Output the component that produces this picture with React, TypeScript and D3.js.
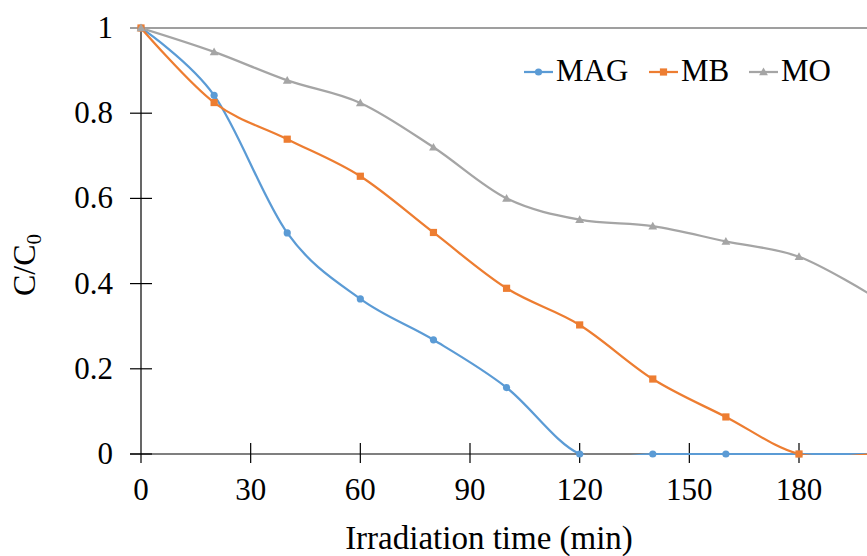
import React from "react";
import * as d3 from "d3";

// irradiation time (min) and C/C0 for each dye
const times = [0, 20, 40, 60, 80, 100, 120, 140, 160, 180, 200];
const magValues = [1, 0.842, 0.519, 0.364, 0.268, 0.156, 0, 0, 0, 0, 0];
const mbValues = [1, 0.825, 0.739, 0.652, 0.52, 0.389, 0.303, 0.176, 0.087, 0, 0];
const moValues = [1, 0.944, 0.877, 0.824, 0.72, 0.6, 0.55, 0.535, 0.499, 0.463, 0.372];

const xTicks = [0, 30, 60, 90, 120, 150, 180];
const yTicks = [0, 0.2, 0.4, 0.6, 0.8, 1];

const seriesNames = ["MAG", "MB", "MO"];
const seriesColors = ["#5B9BD5", "#ED7D31", "#A5A5A5"];
const seriesValues = [magValues, mbValues, moValues];

const W = 867;
const H = 556;
const left = 141;
const top = 28;
const bottom = 454;

const font = '"Liberation Serif", "Times New Roman", Times, "DejaVu Serif", serif';

function Marker({ kind, x, y, color }) {
  if (kind === 0) return <circle cx={x} cy={y} r={3.6} fill={color} />;
  if (kind === 1)
    return <rect x={x - 3.6} y={y - 3.6} width={7.2} height={7.2} fill={color} />;
  const s = 4.4;
  return (
    <path
      d={`M${x},${y - s}L${x + s},${y + s * 0.75}L${x - s},${y + s * 0.75}Z`}
      fill={color}
    />
  );
}

export default function App() {
  const x = d3
    .scaleLinear()
    .domain([0, 180])
    .range([left, 799]);
  const y = d3.scaleLinear().domain([0, 1]).range([bottom, top]);

  const line = d3
    .line<number>()
    .x((d, i) => x(times[i]))
    .y((d) => y(d))
    .curve(d3.curveCardinal.tension(0));

  const legendX = [524, 649, 749];
  const txt = { fontFamily: font };

  return (
    <svg
      width={W}
      height={H}
      style={{ position: "absolute", left: 0, top: 0, background: "#fff", fontFamily: font }}
    >
      <defs>
        <clipPath id="plot">
          <rect x={left} y={top - 2} width={W} height={bottom - top + 3} />
        </clipPath>
      </defs>

      {/* top border at 1 */}
      <line x1={130} x2={W} y1={y(1)} y2={y(1)} stroke="#7f7f7f" strokeWidth={1.5} />

      {/* axes */}
      <line x1={left} x2={left} y1={top} y2={bottom + 9} stroke="#000" strokeWidth={1.2} />
      <line x1={130} x2={W} y1={bottom} y2={bottom} stroke="#000" strokeWidth={1.2} />

      {yTicks.map((t) => (
        <g key={"y" + t}>
          {t < 1 && (
            <line x1={130} x2={152} y1={y(t)} y2={y(t)} stroke="#000" strokeWidth={1.2} />
          )}
          <text x={113} y={y(t) + 10} textAnchor="end" fontSize={31} fill="#000" style={txt}>
            {t === 0 || t === 1 ? String(t) : t.toFixed(1)}
          </text>
        </g>
      ))}

      {xTicks.map((t) => (
        <g key={"x" + t}>
          {t > 0 && (
            <line x1={x(t)} x2={x(t)} y1={bottom - 11} y2={bottom + 9} stroke="#000" strokeWidth={1.2} />
          )}
          <text x={x(t)} y={500} textAnchor="middle" fontSize={31} fill="#000" style={txt}>
            {t}
          </text>
        </g>
      ))}

      <g clipPath="url(#plot)">
        {seriesValues.map((vals, si) => (
          <path
            key={seriesNames[si]}
            d={line(vals) || ""}
            fill="none"
            stroke={seriesColors[si]}
            strokeWidth={2.25}
          />
        ))}
      </g>
      {seriesValues.map((vals, si) => (
        <g key={"m" + si}>
          {vals.map((v, i) => (
            <Marker key={i} kind={si} x={x(times[i])} y={y(v)} color={seriesColors[si]} />
          ))}
        </g>
      ))}

      {/* legend */}
      {seriesNames.map((name, si) => (
        <g key={"l" + name}>
          <line
            x1={legendX[si]}
            x2={legendX[si] + 29}
            y1={72}
            y2={72}
            stroke={seriesColors[si]}
            strokeWidth={2.25}
          />
          <Marker kind={si} x={legendX[si] + 14.5} y={72} color={seriesColors[si]} />
          <text x={legendX[si] + 32} y={81} fontSize={31} fill="#000" style={txt}>
            {name}
          </text>
        </g>
      ))}

      {/* axis titles */}
      <text x={489} y={549} textAnchor="middle" fontSize={33} fill="#000" style={txt}>
        Irradiation time (min)
      </text>
      <text
        transform="translate(35,265) rotate(-90)"
        textAnchor="middle"
        fontSize={32}
        fill="#000"
        style={txt}
      >
        C/C<tspan fontSize={21} dy={6}>0</tspan>
      </text>
    </svg>
  );
}
